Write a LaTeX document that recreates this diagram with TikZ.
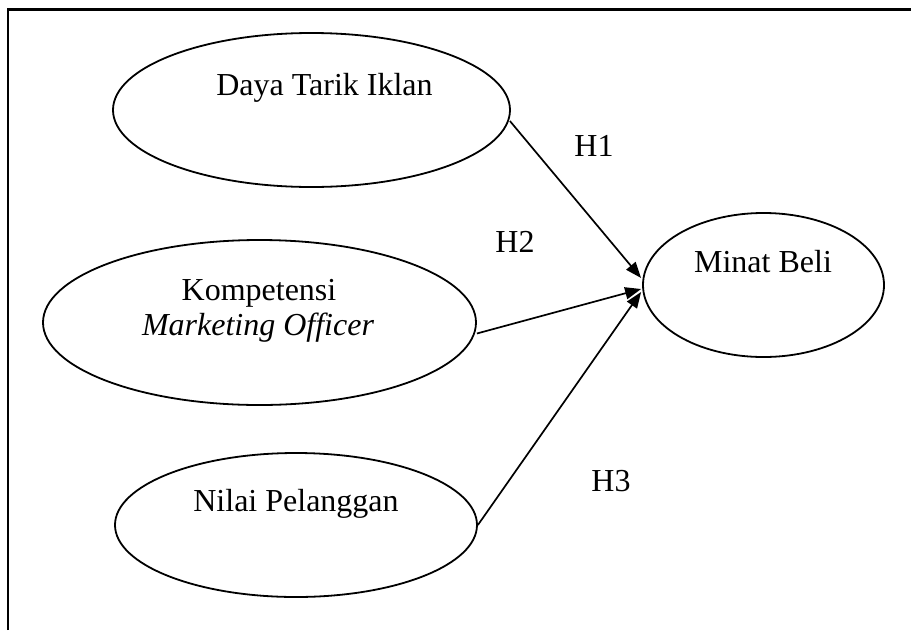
\documentclass[tikz,border=0pt]{standalone}
\usepackage{fontspec}
\setmainfont{Liberation Serif}
\usetikzlibrary{shapes.geometric,arrows.meta,calc}
\begin{document}
\begin{tikzpicture}[x=1pt,y=-1pt,
  ell/.style={draw,ellipse,line width=1.8pt,inner sep=0pt},
  txt/.style={anchor=base,inner sep=0pt,font=\fontsize{32}{36}\selectfont},
  conn/.style={line width=1.7pt,-{Triangle[length=16pt,width=12pt]}}]
\useasboundingbox (0,0) rectangle (911,630);
% frame
\draw[line width=2.6pt] (8,630) -- (8,9.5) -- (911,9.5);
% ellipses
\node[ell,minimum width=397pt,minimum height=154pt] (dti) at (311.5,110) {};
\node[ell,minimum width=433pt,minimum height=165pt] (kmo) at (259.5,322.5) {};
\node[ell,minimum width=362pt,minimum height=144pt] (np) at (296,525) {};
\node[ell,minimum width=241pt,minimum height=144pt] (mb) at (763.5,285) {};
% texts
\node[txt] (t1) at (324.5,95) {Daya Tarik Iklan};
\node[txt] (t2a) at (259,300) {Kompetensi};
\node[txt] (t2b) at (258,335) {\itshape Marketing Officer};
\node[txt] (t3) at (296,511) {Nilai Pelanggan};
\node[txt] (t4) at (763,272) {Minat Beli};
\node[txt] (h1) at (594,156) {H1};
\node[txt] (h2) at (515,252) {H2};
\node[txt] (h3) at (611,491) {H3};
% connector ends
\coordinate (s1) at ($(dti.east)+(-1,11)$);
\coordinate (s2) at ($(kmo.east)+(0,11)$);
\coordinate (s3) at (np.east);
\coordinate (e1) at ($(mb.west)+(-1,-7)$);
\coordinate (e2) at ($(mb.west)+(-1,4)$);
\coordinate (e3) at ($(mb.west)+(-1,7)$);
\draw[conn] (s1) -- (e1);
\draw[conn] (s2) -- (e2);
\draw[conn] (s3) -- (e3);
\end{tikzpicture}
\end{document}
